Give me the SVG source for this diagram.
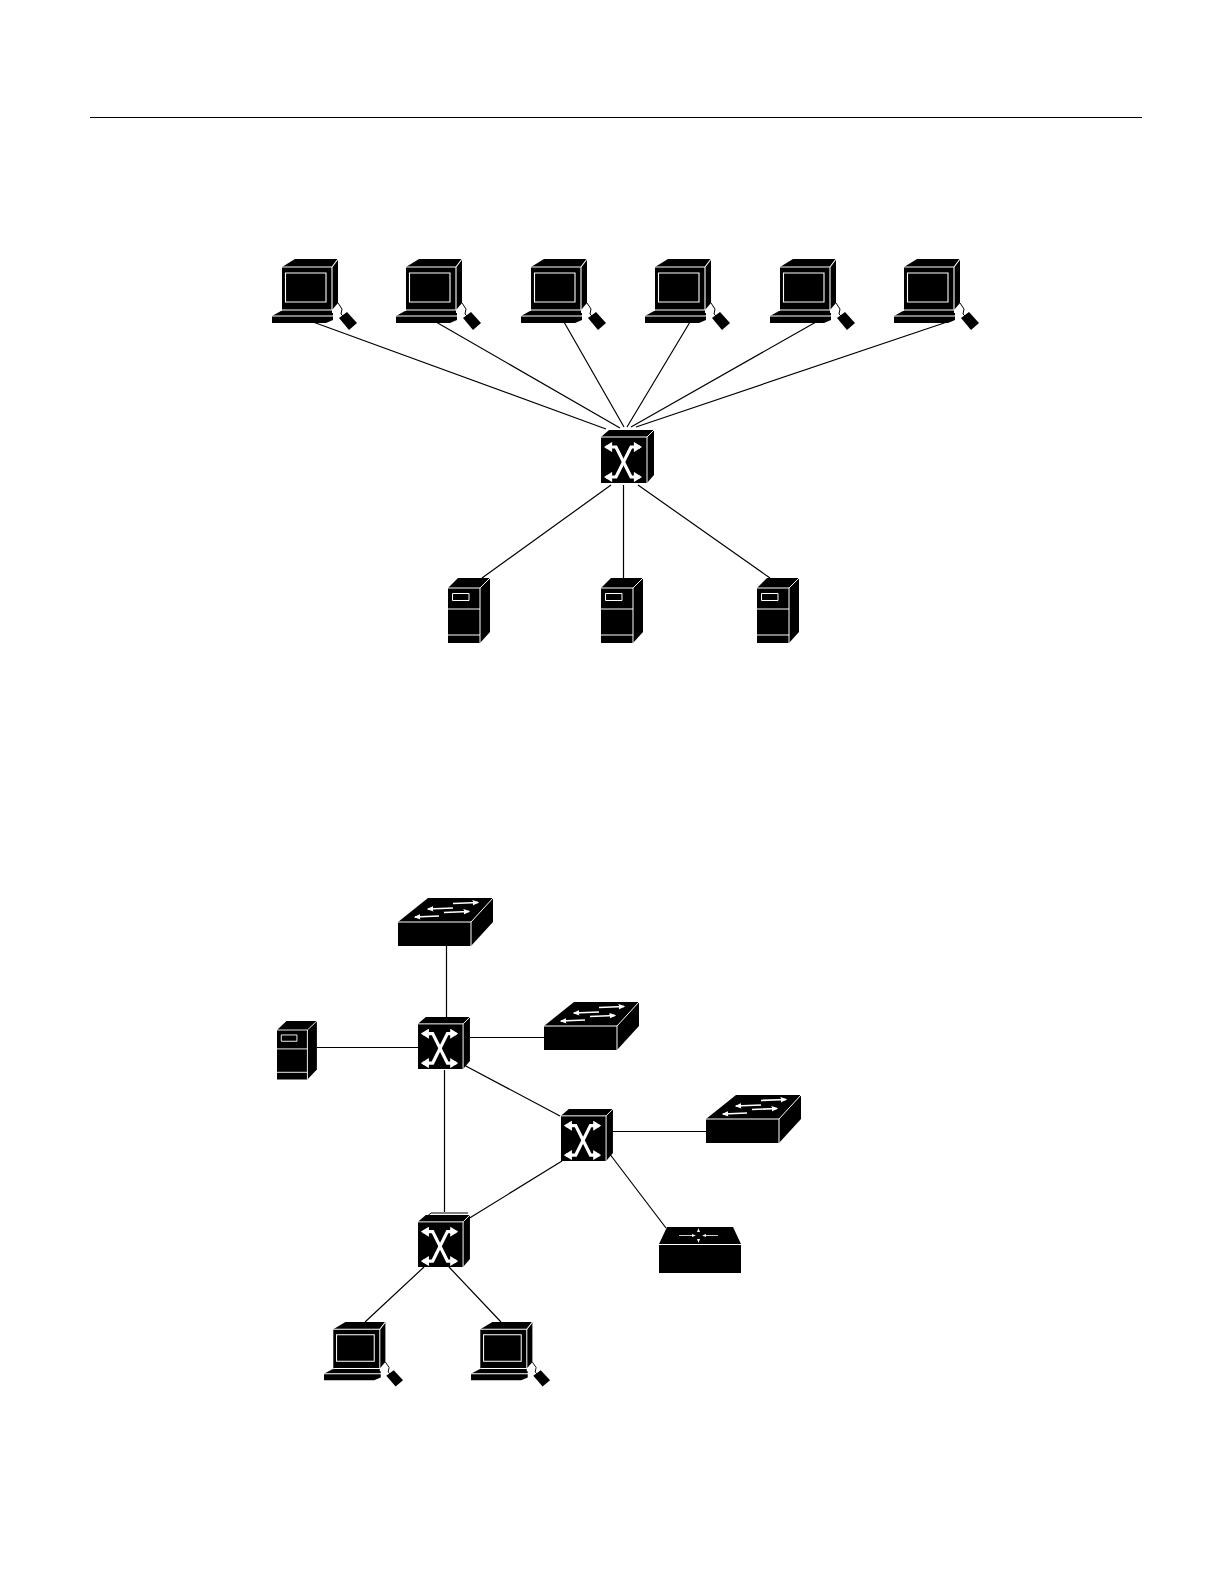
<svg xmlns="http://www.w3.org/2000/svg" width="1224" height="1584" viewBox="0 0 1224 1584">
<style>
.k{fill:#000}
.w{fill:none;stroke:#fff}
.c{fill:none;stroke:#000;stroke-width:1.2}
</style>
<defs>
<marker id="ah" viewBox="0 0 10 10" refX="8" refY="5" markerWidth="3.2" markerHeight="3.2" orient="auto-start-reverse"><path d="M2 0L10 5L2 10Z" fill="#fff"/></marker>
<marker id="as" viewBox="0 0 10 10" refX="8" refY="5" markerWidth="4" markerHeight="4" orient="auto"><path d="M0 1L10 5L0 9Z" fill="#fff"/></marker>
<marker id="at" viewBox="0 0 10 10" refX="8" refY="5" markerWidth="5" markerHeight="5" orient="auto"><path d="M0 1L10 5L0 9Z" fill="#fff"/></marker>
<g id="pc">
<path class="k" d="M282 267L295 259H338V303L332 310V313H333V320L326 323H272V316L281 311H282Z"/>
<path class="w" stroke-width="1.100" d="M282 267H332L338 259M332 267V310M285.500 273H326V302H285.500ZM282 310H332M272 316H333M333 316L338 311"/>
<path d="M338 303L342 309L341 314L345 318" fill="none" stroke="#000" stroke-width="1"/>
<path class="k" d="M339 318L347 312L357 323L349 330Z"/>
</g>
<g id="sw">
<path class="k" d="M601 437L609 430H654V475L647 483H601Z"/>
<path class="w" stroke-width="1" d="M601 437H647L654 430M647 437V483"/>
<path class="w" stroke-width="3.200" marker-start="url(#ah)" marker-end="url(#ah)" d="M606 447H616L631 477H640"/>
<path class="w" stroke-width="3.200" marker-start="url(#ah)" marker-end="url(#ah)" d="M640 447H631L616 477H606"/>
</g>
<g id="srv">
<path class="k" d="M448 588L458 578H490V632L480 643H448Z"/>
<path class="w" stroke-width="1" d="M448 588H480L490 578M480 588V643M448 609H480M448 635H480M452.500 593.500H469V600.500H452.500Z"/>
</g>
<g id="wg">
<path class="k" d="M398 922L428 898H493V922L471 946H398Z"/>
<path class="w" stroke-width="1" d="M398 922H471L493 898M471 922V946"/>
<path class="w" stroke-width="1.700" marker-end="url(#as)" d="M453 903.500L478 902.500"/>
<path class="w" stroke-width="1.700" marker-end="url(#as)" d="M453 908L428 909"/>
<path class="w" stroke-width="1.700" marker-end="url(#as)" d="M444 912.500L469 911.500"/>
<path class="w" stroke-width="1.700" marker-end="url(#as)" d="M439 916L415 917"/>
</g>
<g id="rt">
<path class="k" d="M659 1244L667 1227H733L741 1244V1273H659Z"/>
<path class="w" stroke-width="1" d="M659 1244.500H741"/>
<path class="w" stroke-width=".8" marker-end="url(#at)" d="M679 1235.500H695"/>
<path class="w" stroke-width=".8" marker-end="url(#at)" d="M718 1235.500H703"/>
<path class="w" stroke-width=".8" marker-end="url(#at)" d="M698.500 1232V1229"/>
<path class="w" stroke-width=".8" marker-end="url(#at)" d="M698.500 1239V1242"/>
</g>
</defs>
<path id="rule" d="M90 117.500H1142" fill="none" stroke="#000" stroke-width="1"/>
<g id="connectors">
<path class="c" d="M313 322L606 429M436 322L620 428M564 322L624 427M690 322L627 427M816 322L631 427M953 320L636 427M611 485L482 578M623.500 485V578M638 485L770 578"/>
<path class="c" d="M446.500 945V1017M317 1047.500H418M470 1037.500H544M444.500 1070V1212M462 1064L560 1116M612 1131.500H706M609 1153L666 1228M562 1161L468 1219M424 1267L365 1322M449 1267L501 1322"/>
</g>
<g id="pc1"><use href="#pc"/></g>
<g id="pc2"><use href="#pc" x="124"/></g>
<g id="pc3"><use href="#pc" x="249"/></g>
<g id="pc4"><use href="#pc" x="373"/></g>
<g id="pc5"><use href="#pc" x="498"/></g>
<g id="pc6"><use href="#pc" x="622"/></g>
<g id="switch-main"><use href="#sw"/></g>
<g id="server1"><use href="#srv"/></g>
<g id="server2"><use href="#srv" x="153"/></g>
<g id="server3"><use href="#srv" x="309"/></g>
<g id="wg1"><use href="#wg"/></g>
<g id="wg2"><use href="#wg" x="146" y="104"/></g>
<g id="wg3"><use href="#wg" x="308" y="197"/></g>
<g id="server4"><use href="#srv" transform="translate(277 1021) scale(.95 .9) translate(-448 -578)"/></g>
<g id="switch1"><use href="#sw" transform="translate(418 1017) scale(.98 .98) translate(-601 -430)"/></g>
<g id="switch2"><use href="#sw" transform="translate(561 1109) scale(.98 .98) translate(-601 -430)"/></g>
<g id="switch3"><use href="#sw" transform="translate(418 1215) scale(.98 .98) translate(-601 -430)"/><path d="M424 1219L431 1213H468" fill="none" stroke="#000" stroke-width="1"/></g>
<g id="router"><use href="#rt"/></g>
<g id="pc7"><use href="#pc" transform="translate(324 1322) scale(.93 .91) translate(-272 -259)"/></g>
<g id="pc8"><use href="#pc" transform="translate(471 1322) scale(.93 .91) translate(-272 -259)"/></g>
</svg>
